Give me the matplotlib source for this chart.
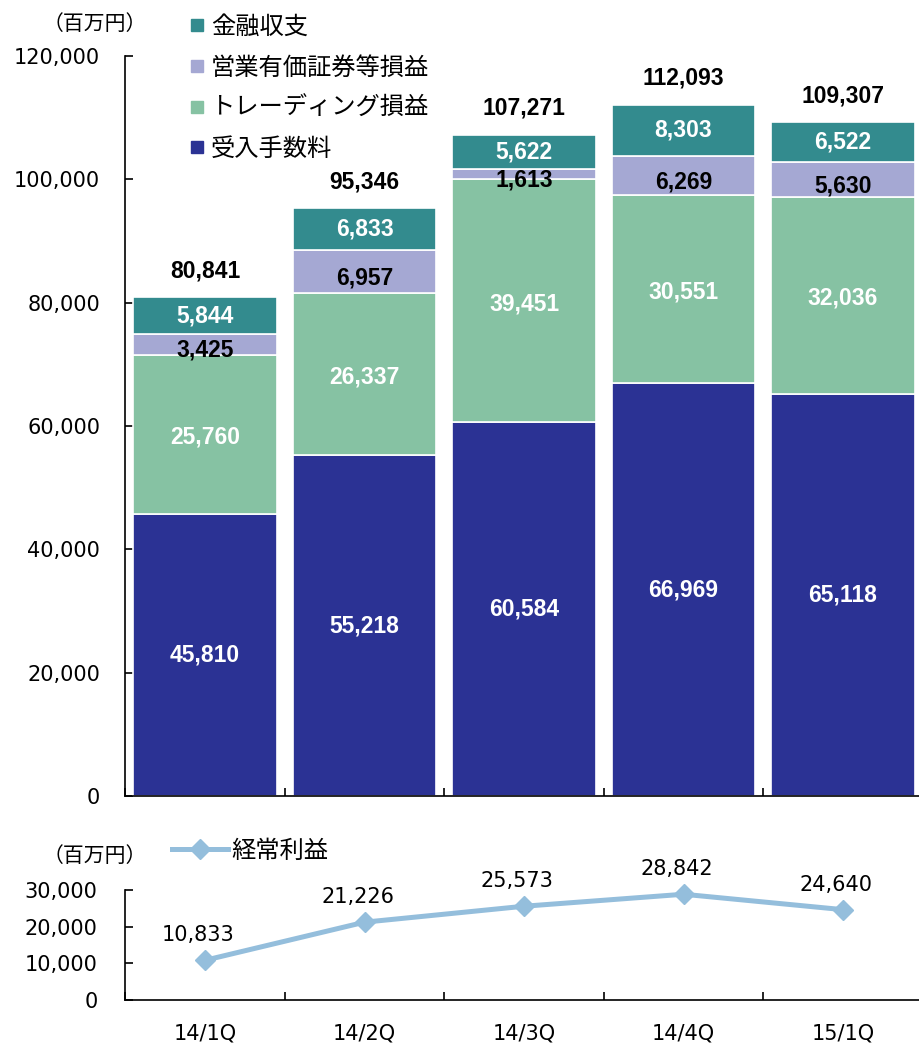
import matplotlib
matplotlib.use("Agg")
import matplotlib.pyplot as plt
from matplotlib.lines import Line2D
from matplotlib.font_manager import FontProperties, fontManager
import numpy as np

# ---- data ----
categories = ['14/1Q', '14/2Q', '14/3Q', '14/4Q', '15/1Q']
fees = [45810, 55218, 60584, 66969, 65118]          # 受入手数料
trading = [25760, 26337, 39451, 30551, 32036]       # トレーディング損益
securities = [3425, 6957, 1613, 6269, 5630]         # 営業有価証券等損益
financial = [5844, 6833, 5622, 8303, 6522]          # 金融収支
totals = [80841, 95346, 107271, 112093, 109307]
ordinary = [10833, 21226, 25573, 28842, 24640]      # 経常利益
series_names = ['受入手数料', 'トレーディング損益', '営業有価証券等損益', '金融収支']
line_name = '経常利益'
unit_label = '（百万円）'
top_yticks = [0, 20000, 40000, 60000, 80000, 100000, 120000]
bot_yticks = [0, 10000, 20000, 30000]

# ---- style ----
c_blue = '#2B3294'
c_green = '#86C2A3'
c_lav = '#A5A8D3'
c_teal = '#338B8E'
c_line = '#94BEDC'
colors = [c_blue, c_green, c_lav, c_teal]
label_colors = ['white', 'white', 'black', 'white']
label_offsets = [0, -2, -4.5, 0]

plt.rcParams['font.family'] = ['DejaVu Sans', 'Noto Sans CJK JP']
cjk = 'Noto Sans CJK JP'

# bold Arial-like font (avoid the Narrow variant)
bold_fp = None
for f in fontManager.ttflist:
    if (f.name == 'Liberation Sans' and 'Narrow' not in f.fname
            and f.weight in (700, 'bold') and f.style == 'normal'):
        bold_fp = FontProperties(fname=f.fname, size=16.5)
        break
if bold_fp is None:
    bold_fp = FontProperties(family='Liberation Sans', weight='bold', size=16.5)

W, H = 920, 1043
fig = plt.figure(figsize=(W / 100, H / 100), dpi=100)

ax_left = 125.3 / W
ax_width = 797.5 / W
ax1 = fig.add_axes([ax_left, (H - 796) / H, ax_width, 740 / H])
ax2 = fig.add_axes([ax_left, (H - 1000) / H, ax_width, 110 / H])

x = np.arange(len(categories))
stack = [fees, trading, securities, financial]
bottom = np.zeros(len(categories))
for vals, col, lc, off in zip(stack, colors, label_colors, label_offsets):
    vals = np.array(vals, dtype=float)
    ax1.bar(x, vals, bottom=bottom, width=0.9, color=col, edgecolor='white',
            linewidth=1.2, zorder=2)
    for xi, b, v in zip(x, bottom, vals):
        ax1.annotate(f'{int(v):,}', (xi, b + v / 2), xytext=(0, off),
                     textcoords='offset points', ha='center', va='center',
                     fontproperties=bold_fp, color=lc, zorder=3)
    bottom = bottom + vals

for xi, t in zip(x, totals):
    ax1.annotate(f'{t:,}', (xi, t), xytext=(0, 19), textcoords='offset points',
                 ha='center', va='center', fontproperties=bold_fp,
                 color='black')

ax1.set_xlim(-0.5, len(categories) - 0.5)
ax1.set_ylim(0, 120000)
ax1.set_yticks(top_yticks)
ax1.set_yticklabels([f'{v:,}' for v in top_yticks])
ax1.tick_params(axis='y', direction='in', length=6, width=1.2, pad=18,
                labelsize=15)
ax1.set_xticks(np.arange(len(categories) + 1) - 0.5)
ax1.set_xticklabels([])
ax1.tick_params(axis='x', direction='in', length=6, width=1.2)
for s in ['top', 'right']:
    ax1.spines[s].set_visible(False)
for s in ['left', 'bottom']:
    ax1.spines[s].set_linewidth(1.2)

# legend top
handles = [Line2D([], [], marker='s', ls='none', color=c, markersize=8)
           for c in colors[::-1]]
fig.legend(handles, series_names[::-1], loc='upper left',
           bbox_to_anchor=(188 / W, 1 - 14 / H), frameon=False,
           prop=FontProperties(family=cjk, size=17.5), handletextpad=0.25,
           handlelength=0.7, labelspacing=0.6, borderpad=0, borderaxespad=0)

fig.text(95 / W, 1 - 24 / H, unit_label, family=cjk, fontsize=15,
         ha='center', va='center')

# ---- bottom line chart ----
ax2.plot(x, ordinary, color=c_line, linewidth=3.6, marker='D', markersize=10,
         clip_on=False, zorder=3)
for xi, v in zip(x, ordinary):
    ax2.annotate(f'{v:,}', (xi, v), xytext=(-5, 18), textcoords='offset points',
                 ha='center', va='center', fontsize=15, color='black')
ax2.set_xlim(-0.5, len(categories) - 0.5)
ax2.set_ylim(0, 30000)
ax2.set_yticks(bot_yticks)
ax2.set_yticklabels([f'{v:,}' for v in bot_yticks])
ax2.tick_params(axis='y', direction='in', length=6, width=1.2, pad=20,
                labelsize=15)
ax2.set_xticks(x)
ax2.set_xticklabels(categories)
ax2.tick_params(axis='x', which='major', length=0, pad=17, labelsize=15)
ax2.set_xticks(np.arange(len(categories) + 1) - 0.5, minor=True)
ax2.tick_params(axis='x', which='minor', direction='in', length=6, width=1.2)
for s in ['top', 'right']:
    ax2.spines[s].set_visible(False)
for s in ['left', 'bottom']:
    ax2.spines[s].set_linewidth(1.2)

fig.legend([Line2D([], [], color=c_line, linewidth=3.6, marker='D',
                   markersize=10)], [line_name], loc='upper left',
           bbox_to_anchor=(172 / W, 1 - 838 / H), frameon=False,
           prop=FontProperties(family=cjk, size=17.5), handletextpad=0.15,
           handlelength=2.3, borderpad=0, borderaxespad=0)

fig.text(95 / W, 1 - 856 / H, unit_label, family=cjk, fontsize=15,
         ha='center', va='center')

fig.savefig('out.png', dpi=100)
